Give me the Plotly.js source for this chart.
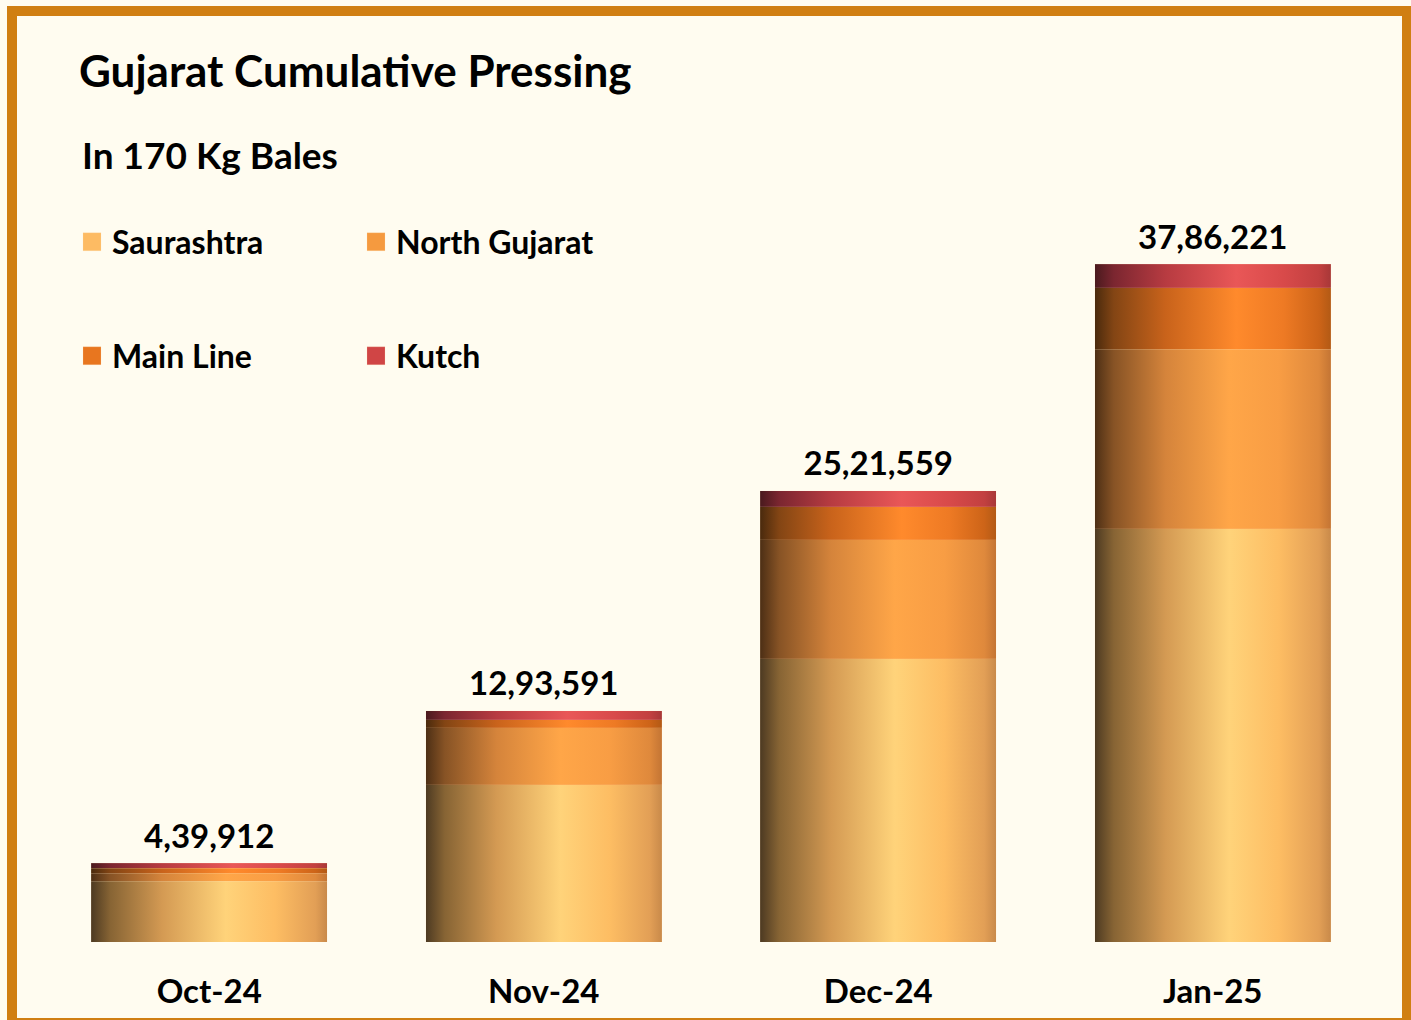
<!DOCTYPE html>
<html>
<head>
<meta charset="utf-8">
<script src="https://cdn.plot.ly/plotly-3.0.1.min.js"></script>
<style>
  html, body { margin: 0; padding: 0; width: 1411px; height: 1020px; overflow: hidden; background: #FFFCF0; }
  #frame { position: absolute; left: 7px; top: 6px; width: 1385px; height: 1002px; border: 10px solid #D07F12; background: #FFFCF0; }
  #chart { position: absolute; left: 0; top: 0; width: 1411px; height: 1020px; }
</style>
</head>
<body>
<div id="frame"></div>
<div id="chart"></div>
<script>
// ---- Data ----
const months = ["Oct-24", "Nov-24", "Dec-24", "Jan-25"];
const saurashtra   = [339000,  878000, 1582000, 2308000];
const northGujarat = [ 45000,  318000,  665000, 1004000];
const mainLine     = [ 28000,   45000,  184000,  341000];
const kutch        = [ 28000,   52000,   90000,  133000];
const totals       = [439912, 1293591, 2521559, 3786221];
const seriesNames  = ["Saurashtra", "North Gujarat", "Main Line", "Kutch"];

// ---- Styling ----
const baseColors = ["#FDBB63", "#F59A3F", "#E8761F", "#D04545"];
const gradients = [
  [[0, "#4d3a22"], [0.08, "#876434"], [0.3, "#d49a53"], [0.57, "#ffd37a"], [0.78, "#fdbd63"], [0.95, "#e29f56"], [1, "#c98a4a"]],
  [[0, "#4d2f15"], [0.08, "#875325"], [0.3, "#d5843b"], [0.57, "#ffa648"], [0.78, "#f89d44"], [0.95, "#df893c"], [1, "#c47534"]],
  [[0, "#4a2a0d"], [0.08, "#834514"], [0.3, "#c9631b"], [0.6, "#ff8a2c"], [0.8, "#ee7a24"], [0.95, "#cd6418"], [1, "#b35a15"]],
  [[0, "#4a1a1e"], [0.08, "#7b2630"], [0.3, "#b73b41"], [0.6, "#e95757"], [0.8, "#d84a4a"], [0.95, "#c24040"], [1, "#a83838"]]
];
const FONT = "Lato, 'Open Sans', sans-serif";

function indianFormat(n) {
  return Math.round(n).toLocaleString("en-IN");
}

const values = [saurashtra, northGujarat, mainLine, kutch];
const traces = values.map((v, i) => ({
  type: "bar",
  name: seriesNames[i],
  x: months,
  y: v,
  marker: { color: baseColors[i], line: { width: 0.5, color: "rgba(255,225,180,0.25)" } },
  legend: i < 2 ? "legend" : "legend2",
  hoverinfo: "x+y+name"
}));

traces.push({
  type: "scatter",
  mode: "markers+text",
  x: months,
  y: totals,
  text: totals.map(indianFormat),
  textposition: "top center",
  marker: { size: 10, opacity: 0 },
  textfont: { family: FONT, size: 33, color: "#000000", weight: 700 },
  showlegend: false,
  hoverinfo: "skip",
  cliponaxis: false
});

const W = 1411, H = 1020;
const ML = 42, MR = 31, MT = 199, MB = 78;
const PW = W - ML - MR, PH = H - MT - MB;
const px2x = px => (px - ML) / PW;
const py2y = py => (H - MB - py) / PH;

const legendCommon = {
  orientation: "h", traceorder: "normal",
  xref: "paper", yref: "paper",
  xanchor: "left", yanchor: "middle",
  entrywidth: 239, entrywidthmode: "pixels",
  font: { family: FONT, size: 32, color: "#000000", weight: 700 },
  bgcolor: "rgba(0,0,0,0)"
};

const layout = {
  width: W, height: H,
  paper_bgcolor: "rgba(0,0,0,0)",
  plot_bgcolor: "rgba(0,0,0,0)",
  barmode: "stack",
  bargap: 0.295,
  margin: { l: ML, r: MR, t: MT, b: MB },
  font: { family: FONT, color: "#000000" },
  title: {
    text: "<b>Gujarat Cumulative Pressing</b>",
    x: 79 / W, xref: "container", xanchor: "left",
    y: 1 - 72 / H, yref: "container", yanchor: "middle",
    font: { family: FONT, size: 44, color: "#000000" },
    automargin: false
  },
  annotations: [{
    text: "<b>In 170 Kg Bales</b>",
    xref: "paper", yref: "paper",
    x: px2x(80), xanchor: "left",
    y: py2y(154), yanchor: "middle",
    showarrow: false,
    font: { family: FONT, size: 37, color: "#000000" }
  }],
  xaxis: {
    showgrid: false, zeroline: false, showline: false, ticks: "",
    ticklabelstandoff: 27,
    tickfont: { family: FONT, size: 33, color: "#000000", weight: 700 },
    fixedrange: true, automargin: false
  },
  yaxis: {
    range: [0, 4150000],
    visible: false, showgrid: false, zeroline: false, fixedrange: true, automargin: false
  },
  legend: Object.assign({}, legendCommon, { x: px2x(72), y: py2y(242) }),
  legend2: Object.assign({}, legendCommon, { x: px2x(72), y: py2y(356) }),
  showlegend: true
};

Plotly.newPlot("chart", traces, layout, { displayModeBar: false, staticPlot: true }).then(gd => {
  // Add horizontal cylinder-like gradients to the bar segments
  const svg = gd.querySelector("svg.main-svg");
  const ns = "http://www.w3.org/2000/svg";
  let defs = svg.querySelector("defs");
  if (!defs) { defs = document.createElementNS(ns, "defs"); svg.insertBefore(defs, svg.firstChild); }
  gradients.forEach((stops, i) => {
    const lg = document.createElementNS(ns, "linearGradient");
    lg.setAttribute("id", "barGrad" + i);
    lg.setAttribute("x1", "0"); lg.setAttribute("y1", "0");
    lg.setAttribute("x2", "1"); lg.setAttribute("y2", "0");
    stops.forEach(([o, c]) => {
      const s = document.createElementNS(ns, "stop");
      s.setAttribute("offset", o);
      s.setAttribute("stop-color", c);
      lg.appendChild(s);
    });
    defs.appendChild(lg);
  });
  const barTraces = gd.querySelectorAll(".barlayer .trace");
  barTraces.forEach((t, i) => {
    t.querySelectorAll("path").forEach(p => { p.style.fill = "url(#barGrad" + i + ")"; p.style.fillOpacity = 1; });
  });
  // Larger legend swatches
  gd.querySelectorAll(".legendpoints path").forEach(p => {
    const tr = p.getAttribute("transform") || "";
    p.setAttribute("transform", tr + " scale(1.5)");
  });
});
</script>
</body>
</html>
